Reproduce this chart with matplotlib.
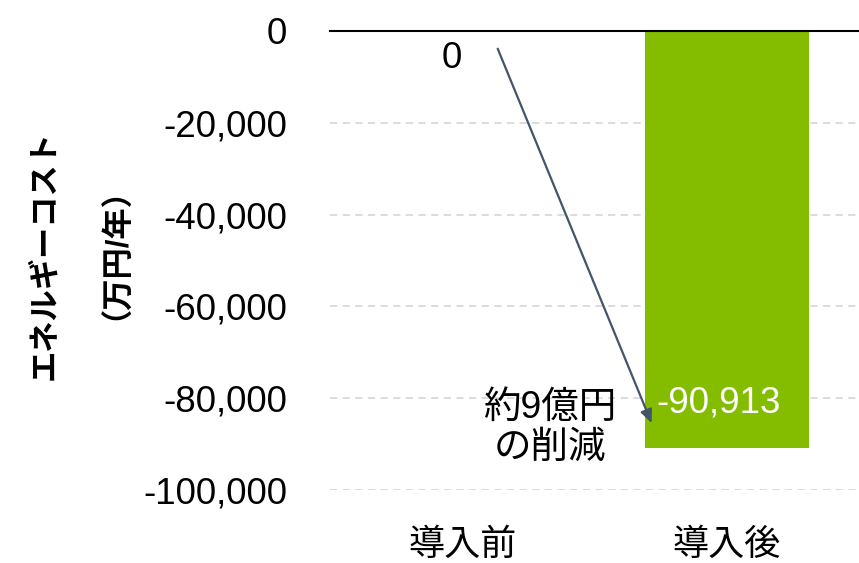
import matplotlib
matplotlib.use("Agg")
import matplotlib.pyplot as plt

plt.rcParams["font.family"] = ["Liberation Sans", "Noto Sans CJK JP"]

# ── Data ──────────────────────────────────────────────────────────────────────
categories = ["導入前", "導入後"]
values     = [0, -90913]
value_labels = ["0", "-90,913"]
yticks     = [0, -20000, -40000, -60000, -80000, -100000]
ytick_labels = ["0", "-20,000", "-40,000", "-60,000", "-80,000", "-100,000"]
note_text  = "約9億円\nの削減"
ylabel_lines = ["エネルギーコスト", "（万円/年）"]

green = "#84BD00"
arrow_col = "#44546A"

W, H = 859, 563
fig = plt.figure(figsize=(W / 100, H / 100), dpi=100)
ax = fig.add_axes([330 / W, 1 - 490 / H, 529 / W, 459 / H])

x = list(range(len(categories)))
ax.bar(x, values, width=0.62, color=green, zorder=3)

ax.set_xlim(-0.5, 1.5)
ax.set_ylim(-100000, 0)
ax.set_yticks(yticks)
ax.set_yticklabels(ytick_labels, fontsize=26.5)
ax.set_xticks(x)
ax.set_xticklabels(categories, fontsize=26)
ax.tick_params(axis="both", length=0)
ax.tick_params(axis="y", pad=31)
ax.tick_params(axis="x", pad=27)

for s in ax.spines.values():
    s.set_visible(False)
ax.yaxis.grid(True, color="#d9d9d9", linestyle=(0, (4, 3)), linewidth=1.3, zorder=0)
ax.axhline(0, color="black", linewidth=1.5, zorder=4, clip_on=False)

# y label as two rotated lines
fig.text(45 / W, 1 - 255 / H, ylabel_lines[0], rotation=90, ha="center", va="center",
         fontsize=22.5, fontweight="bold")
fig.text(101 / W, 1 - 238 / H, ylabel_lines[1], rotation=90, ha="center", va="center",
         fontsize=22.5, fontweight="bold")

# data labels
ax.annotate(value_labels[0], (-0.04, values[0]), xytext=(0, -7), textcoords="offset points",
            ha="center", va="top", fontsize=26.5, color="black")
ax.text(1 - 0.03, -81000, value_labels[1], ha="center", va="center",
        fontsize=26.5, color="white", zorder=5)

# arrow + note
ax.annotate("", xy=(0.72, -86000), xytext=(0.13, -3300),
            arrowprops=dict(arrowstyle="-|>,head_length=0.8,head_width=0.35",
                            color=arrow_col, lw=1.6), zorder=5)
ax.text(0.33, -86500, note_text, ha="center", va="center", fontsize=27,
        linespacing=1.13, color="black", zorder=5)

fig.savefig("out.png", dpi=100)
